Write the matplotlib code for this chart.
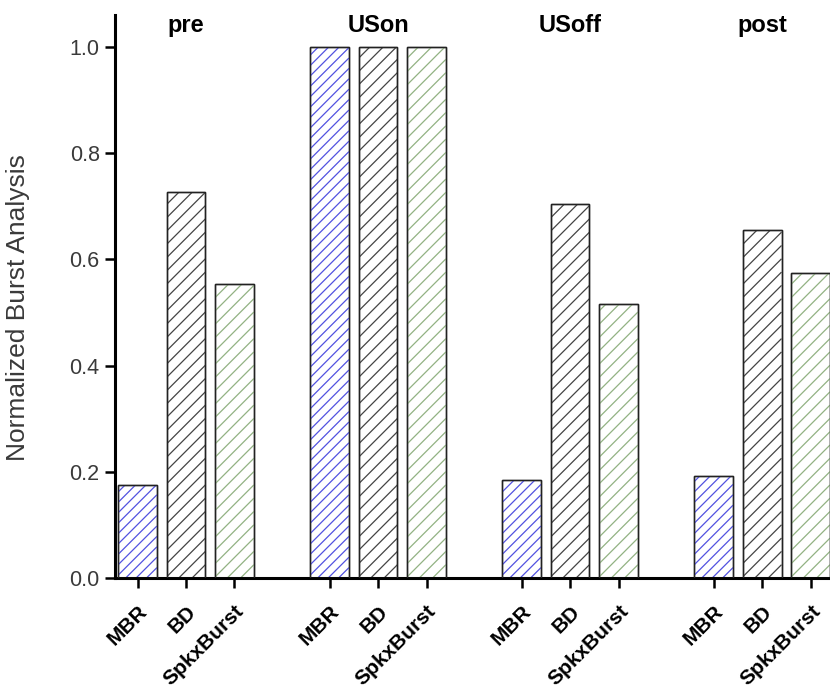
import numpy as np
import matplotlib.pyplot as plt
from matplotlib.collections import LineCollection
from matplotlib.transforms import IdentityTransform

plt.rcParams['font.family'] = ['Liberation Sans', 'DejaVu Sans']

# data
groups = ['pre', 'USon', 'USoff', 'post']
measures = ['MBR', 'BD', 'SpkxBurst']
mbr = [0.175, 1.0, 0.184, 0.192]
bd = [0.726, 1.0, 0.704, 0.655]
spkx = [0.553, 1.0, 0.516, 0.574]
hatch_colors = ['#5252e0', '#444444', '#92b283']
hatch_gaps = [10.4, 13.3, 13.3]  # pixels between hatch lines


def hatch_bars(ax, bars, gap, color):
    # diagonal '/' lines drawn in pixels, clipped to each bar
    for b in bars:
        (x0, y0), (x1, y1) = ax.transData.transform(
            [[b.get_x(), b.get_y()], [b.get_x() + b.get_width(), b.get_y() + b.get_height()]])
        w = x1 - x0
        starts = np.arange(y0 - w, y1, gap)
        segs = [[(x0, s), (x1, s + w)] for s in starts]
        lc = LineCollection(segs, colors=color, linewidths=0.9,
                            transform=IdentityTransform())
        ax.add_collection(lc, autolim=False)
        lc.set_clip_path(b)


fig = plt.figure(figsize=(8.3, 6.9), dpi=100)
ax = fig.add_axes([115 / 830, 112 / 690, 1 - 115 / 830, (578 - 15) / 690])
ax.set_xlim(-0.464, 14.28)
ax.set_ylim(0, 1.06)

group_step = 3.96
width = 0.8
series = [mbr, bd, spkx]
xticks, xlabels = [], []
for j, vals in enumerate(series):
    x = np.arange(len(groups)) * group_step + j
    bars = ax.bar(x, vals, width, color='white', edgecolor='#222222',
                  linewidth=1.0, zorder=2)
    hatch_bars(ax, bars, hatch_gaps[j], hatch_colors[j])
    ax.bar(x, vals, width, color='none', edgecolor='#222222', linewidth=1.0, zorder=3)
    xticks += list(x)
    xlabels += [measures[j]] * len(groups)

for i, g in enumerate(groups):
    ax.text(i * group_step + 1, 1.041, g, ha='center', va='center',
            fontsize=17, fontweight='bold')

ax.set_xticks(xticks)
ax.set_xticklabels(xlabels, rotation=45, ha='right', rotation_mode='anchor',
                   fontsize=15, fontweight='bold')
ax.set_yticks([0.0, 0.2, 0.4, 0.6, 0.8, 1.0])
ax.set_yticklabels(['0.0', '0.2', '0.4', '0.6', '0.8', '1.0'])
ax.tick_params(axis='y', labelsize=15.5, labelcolor='#3a3a3a', length=7, width=1.8, pad=4)
ax.tick_params(axis='x', length=7, width=1.8, pad=10)
ax.set_ylabel('Normalized Burst Analysis', fontsize=19, color='#3a3a3a')
ax.yaxis.set_label_coords(-0.119, 0.481)

for s in ['top', 'right']:
    ax.spines[s].set_visible(False)
ax.spines['left'].set_linewidth(2.2)
ax.spines['bottom'].set_linewidth(2.2)

fig.savefig('out.png', dpi=100)
